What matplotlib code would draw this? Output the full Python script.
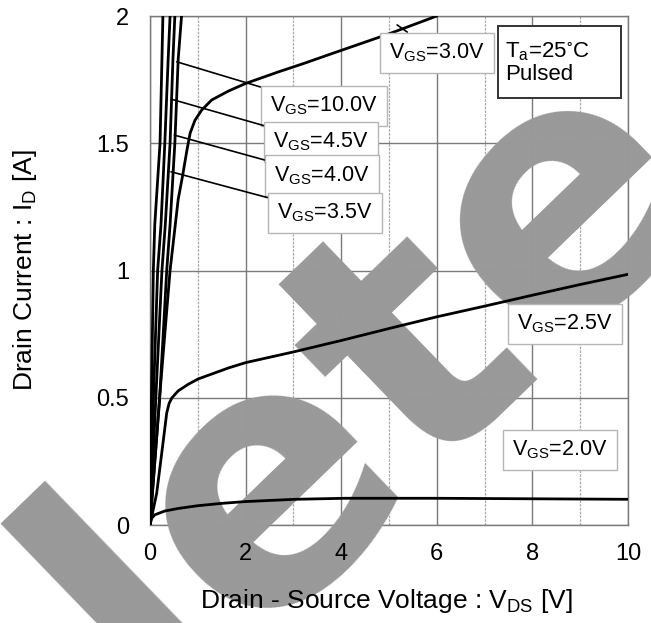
import numpy as np
import matplotlib.pyplot as plt
from matplotlib.patches import Rectangle

plt.rcParams['font.family'] = ['Liberation Sans', 'DejaVu Sans']
plt.rcParams['mathtext.default'] = 'regular'

# Output characteristics (V_DS [V], I_D [A])
vds_10 = [0, 0.03, 0.07, 0.10, 0.21, 0.25, 0.27]
id_10 = [0, 0.49, 1.0, 1.18, 1.5, 1.83, 2.0]
vds_45 = [0, 0.07, 0.16, 0.23, 0.31, 0.38, 0.42]
id_45 = [0, 0.49, 1.0, 1.18, 1.5, 1.83, 2.0]
vds_40 = [0, 0.12, 0.25, 0.32, 0.42, 0.48, 0.52]
id_40 = [0, 0.49, 1.0, 1.18, 1.5, 1.83, 2.0]
vds_35 = [0, 0.20, 0.35, 0.42, 0.52, 0.59, 0.66]
id_35 = [0, 0.49, 1.0, 1.18, 1.5, 1.83, 2.0]
vds_30 = [0, 0.20, 0.42, 0.59, 0.68, 0.77, 0.84, 0.94, 1.08, 1.29, 1.64, 2.0,
          2.68, 3.24, 3.77, 5.0, 6.0]
id_30 = [0, 0.5, 1.0, 1.28, 1.37, 1.47, 1.54, 1.59, 1.63, 1.67, 1.705, 1.735,
         1.78, 1.815, 1.85, 1.93, 2.0]
vds_25 = [0, 0.14, 0.21, 0.28, 0.35, 0.40, 0.46, 0.59, 0.80, 1.01, 1.64, 2.0,
          3.0, 4.0, 5.0, 6.0, 7.0, 8.0, 9.0, 10.0]
id_25 = [0, 0.125, 0.229, 0.334, 0.44, 0.478, 0.50, 0.527, 0.553, 0.574, 0.617,
         0.638, 0.68, 0.725, 0.772, 0.818, 0.86, 0.903, 0.945, 0.985]
vds_20 = [0, 0.03, 0.1, 0.31, 0.59, 1.01, 1.5, 1.99, 3.03, 4.08, 5.0, 6.0,
          7.0, 8.0, 9.0, 10.0]
id_20 = [0, 0.025, 0.04, 0.055, 0.065, 0.076, 0.085, 0.092, 0.101, 0.105,
         0.105, 0.105, 0.104, 0.103, 0.102, 0.101]

curves = [(vds_10, id_10), (vds_45, id_45), (vds_40, id_40), (vds_35, id_35),
          (vds_30, id_30), (vds_25, id_25), (vds_20, id_20)]

# curve labels: text, label centre (V, I), leader start (V, I) or None
labels = ['V$_{GS}$=10.0V', 'V$_{GS}$=4.5V', 'V$_{GS}$=4.0V', 'V$_{GS}$=3.5V',
          'V$_{GS}$=3.0V', 'V$_{GS}$=2.5V', 'V$_{GS}$=2.0V']
label_v = [3.64, 3.58, 3.60, 3.66, 6.0, 8.68, 8.58]
label_i = [1.646, 1.505, 1.372, 1.226, 1.855, 0.79, 0.295]
leader_v = [0.56, 0.45, 0.51, 0.44, 5.17, None, None]
leader_i = [1.82, 1.673, 1.532, 1.388, 1.965, None, None]

x_ticks = [0, 2, 4, 6, 8, 10]
y_ticks = [0, 0.5, 1, 1.5, 2]
y_ticklabels = ['0', '0.5', '1', '1.5', '2']

fig = plt.figure(figsize=(6.51, 6.23), dpi=100)
rect = [0.2304, 0.1573, 0.7343, 0.8170]

# background axes: grid, frame and the watermark
ax_bg = fig.add_axes(rect)
ax_bg.set_xlim(0, 10)
ax_bg.set_ylim(0, 2)
ax_bg.set_xticks(x_ticks)
ax_bg.set_xticks([1, 3, 5, 7, 9], minor=True)
ax_bg.set_yticks(y_ticks)
ax_bg.tick_params(which='both', length=0, labelbottom=False, labelleft=False)
ax_bg.grid(which='major', color='#7a7a7a', linewidth=1.0)
ax_bg.grid(which='minor', axis='x', color='#a8a8a8', linewidth=0.9, linestyle=(0, (2, 1)))
for t in ax_bg.xaxis.get_minor_ticks():
    if abs(t.get_loc() - 5) < 1e-6:
        t.gridline.set_color('#303030')
for s in ax_bg.spines.values():
    s.set_color('#7a7a7a')
    s.set_linewidth(1.0)

ax_bg.text(0.668, 0.278, 'lete', transform=fig.transFigure, fontsize=255,
           family='DejaVu Sans', fontweight='bold', color='#999999', rotation=44,
           rotation_mode='anchor', ha='center', va='baseline',
           clip_on=False, zorder=5)

# foreground axes: curves, labels, ticks
ax = fig.add_axes(rect)
ax.patch.set_visible(False)
ax.set_xlim(0, 10)
ax.set_ylim(0, 2)
ax.set_xticks(x_ticks)
ax.set_yticks(y_ticks)
ax.set_yticklabels(y_ticklabels)
ax.tick_params(length=0, labelsize=17)
ax.tick_params(axis='y', pad=15)
ax.tick_params(axis='x', pad=13)
for s in ax.spines.values():
    s.set_visible(False)

for v, i in curves:
    ax.plot(v, i, color='black', linewidth=2.0, solid_capstyle='round',
            solid_joinstyle='round')

box = dict(boxstyle='square,pad=0.42', facecolor='white', edgecolor='#b5b5b5', linewidth=1.0)
for k, txt in enumerate(labels):
    if leader_v[k] is None:
        ax.text(label_v[k], label_i[k], txt, fontsize=15.5, ha='center', va='center',
                bbox=box, zorder=6)
    else:
        ax.annotate(txt, xy=(leader_v[k], leader_i[k]), xytext=(label_v[k], label_i[k]),
                    fontsize=15.5, ha='center', va='center', bbox=box, zorder=6,
                    arrowprops=dict(arrowstyle='-', color='black', linewidth=1.2,
                                    shrinkA=0, shrinkB=0))

# condition box
ax.add_patch(Rectangle((7.28, 1.678), 2.57, 0.283, facecolor='white',
                       edgecolor='#333333', linewidth=1.4, zorder=6))
ax.text(7.42, 1.815, 'T$_a$=25$^{\\circ}$C\nPulsed', fontsize=16, ha='left', va='center',
        linespacing=1.05, zorder=7)

ax.set_xlabel('Drain - Source Voltage : V$_{DS}$ [V]', fontsize=19)
ax.set_ylabel('Drain Current : I$_D$ [A]', fontsize=19)
ax.xaxis.set_label_coords(0.494, -0.122)
ax.yaxis.set_label_coords(-0.232, 0.5)

fig.savefig('out.png', dpi=100)
